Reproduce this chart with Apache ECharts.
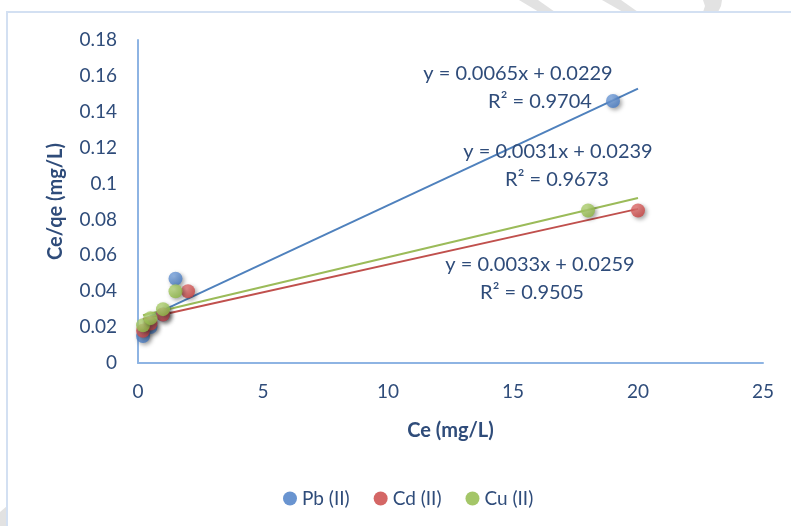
<!DOCTYPE html>
<html>
<head>
<meta charset="utf-8">
<script src="https://cdn.jsdelivr.net/npm/echarts@6/dist/echarts.min.js"></script>
<style>
  html, body { margin: 0; padding: 0; background: #ffffff; }
  #chart { width: 791px; height: 526px; }
</style>
</head>
<body>
<div id="chart"></div>
<script>
// Langmuir isotherm: Ce/qe against Ce for three metal ions
const seriesNames = ['Pb (II)', 'Cd (II)', 'Cu (II)'];
const pbCe = [0.2, 0.5, 1.0, 1.5, 19];
const pbCeQe = [0.015, 0.020, 0.027, 0.047, 0.146];
const cdCe = [0.2, 0.5, 1.0, 2.0, 20];
const cdCeQe = [0.018, 0.022, 0.027, 0.040, 0.085];
const cuCe = [0.2, 0.5, 1.0, 1.5, 18];
const cuCeQe = [0.021, 0.025, 0.030, 0.040, 0.085];

// Linear fits (slope, intercept, R²) for each ion, and the x span of each fit line
const fitSlopes = [0.0065, 0.0031, 0.0033];
const fitIntercepts = [0.0229, 0.0239, 0.0259];
const fitR2 = [0.9704, 0.9673, 0.9505];
const fitXStart = [0.2, 0.2, 0.2];
const fitXEnd = [20, 20, 20];

const xTicks = [0, 5, 10, 15, 20, 25];
const yTicks = [0, 0.02, 0.04, 0.06, 0.08, 0.1, 0.12, 0.14, 0.16, 0.18];

const colors = ['#4479C4', '#C9403F', '#8DB842'];
const lightColors = ['#7fa8df', '#e57a78', '#bad87f'];
const textColor = '#2F4C7A';
const font = 'Lato, "Open Sans", sans-serif';

const xs = [pbCe, cdCe, cuCe];
const ys = [pbCeQe, cdCeQe, cuCeQe];

function pairs(a, b) { return a.map((v, i) => [v, b[i]]); }

const series = [];
// fitted lines underneath the markers
const lineColors = ['#4F81BD', '#C0504D', '#9BBB59'];
for (let i = 0; i < 3; i++) {
  const line = [fitXStart[i], fitXEnd[i]].map(x => [x, fitSlopes[i] * x + fitIntercepts[i]]);
  series.push({
    type: 'line',
    data: line,
    symbol: 'none',
    silent: true,
    lineStyle: { color: lineColors[i], width: 2 },
    z: 2
  });
}
for (let i = 0; i < 3; i++) {
  series.push({
    name: seriesNames[i],
    type: 'scatter',
    data: pairs(xs[i], ys[i]),
    symbol: 'circle',
    symbolSize: 14,
    z: 3,
    itemStyle: {
      color: {
        type: 'radial', x: 0.4, y: 0.35, r: 0.7,
        colorStops: [
          { offset: 0, color: lightColors[i] },
          { offset: 1, color: colors[i] }
        ]
      },
      shadowBlur: 4,
      shadowColor: 'rgba(0,0,0,0.45)',
      shadowOffsetX: 2,
      shadowOffsetY: 2
    }
  });
}

function eqText(i) {
  return 'y = ' + fitSlopes[i].toFixed(4) + 'x + ' + fitIntercepts[i].toFixed(4);
}
function r2Text(i) {
  return 'R² = ' + fitR2[i].toFixed(4);
}

// label anchors (centre of the equation line) for each fit
const labelAnchors = [[518, 74], [558, 152], [540, 265]];
const r2Offsets = [22, -1, -8];
const labelGraphics = [];
for (let i = 0; i < 3; i++) {
  const [cx, cy] = labelAnchors[i];
  labelGraphics.push({
    type: 'text', x: cx, y: cy, z: 10,
    style: { text: eqText(i), fill: textColor, font: '20px ' + font, textAlign: 'center', textVerticalAlign: 'middle' }
  });
  labelGraphics.push({
    type: 'text', x: cx + r2Offsets[i], y: cy + 28, z: 10,
    style: { text: r2Text(i), fill: textColor, font: '20px ' + font, textAlign: 'center', textVerticalAlign: 'middle' }
  });
}

const chart = echarts.init(document.getElementById('chart'), null, { renderer: 'canvas' });
chart.setOption({
  backgroundColor: '#ffffff',
  animation: false,
  grid: { left: 138, top: 40, width: 625, height: 323 },
  legend: {
    data: seriesNames.map((n, i) => ({ name: n, icon: 'circle', itemStyle: { color: colors[i] } })),
    left: 278, top: 484,
    itemWidth: 14, itemHeight: 14, itemGap: 24,
    textStyle: { color: textColor, fontSize: 19, fontFamily: font }
  },
  xAxis: {
    type: 'value', min: 0, max: 25, interval: 5,
    name: 'Ce (mg/L)', nameLocation: 'middle', nameGap: 58,
    nameTextStyle: { color: textColor, fontSize: 20, fontWeight: 'bold', fontFamily: font },
    axisLine: { show: true, onZero: false, lineStyle: { color: '#8EB4E3', width: 2 } },
    axisTick: { show: false },
    splitLine: { show: false },
    axisLabel: {
      color: textColor, fontSize: 19, fontFamily: font, margin: 19,
      formatter: v => xTicks.includes(v) ? String(v) : ''
    }
  },
  yAxis: {
    type: 'value', min: 0, max: 0.18, interval: 0.02,
    name: 'Ce/qe (mg/L)', nameLocation: 'middle', nameGap: 72, nameRotate: 90,
    nameTextStyle: { color: textColor, fontSize: 20, fontWeight: 'bold', fontFamily: font },
    axisLine: { show: true, onZero: false, lineStyle: { color: '#8EB4E3', width: 2 } },
    axisTick: { show: false },
    splitLine: { show: false },
    axisLabel: {
      color: textColor, fontSize: 19, fontFamily: font, margin: 21,
      formatter: v => {
        const t = yTicks.find(k => Math.abs(k - v) < 1e-9);
        return t === undefined ? '' : String(+t.toFixed(2));
      }
    }
  },
  series: series,
  graphic: [
    // faint shapes peeking above the chart frame
    { type: 'polygon', z: 0, shape: { points: [[519, 0], [538, 0], [555, 12], [539, 12]] }, style: { fill: '#e2e2e2' } },
    { type: 'polygon', z: 0, shape: { points: [[602, 0], [621, 0], [638, 12], [623, 12]] }, style: { fill: '#e2e2e2' } },
    { type: 'polygon', z: 0, shape: { points: [[703, 0], [722, 0], [721, 6], [718, 12], [703, 12], [705, 6]] }, style: { fill: '#e2e2e2' } },
    { type: 'polygon', z: 0, shape: { points: [[0, 512], [7, 506], [7, 526], [0, 526]] }, style: { fill: '#e2e2e2' } },
    // chart frame
    { type: 'rect', z: 1, shape: { x: 7, y: 12, width: 820, height: 560 }, style: { fill: null, stroke: '#D3E0F2', lineWidth: 2 } }
  ].concat(labelGraphics)
});
</script>
</body>
</html>
